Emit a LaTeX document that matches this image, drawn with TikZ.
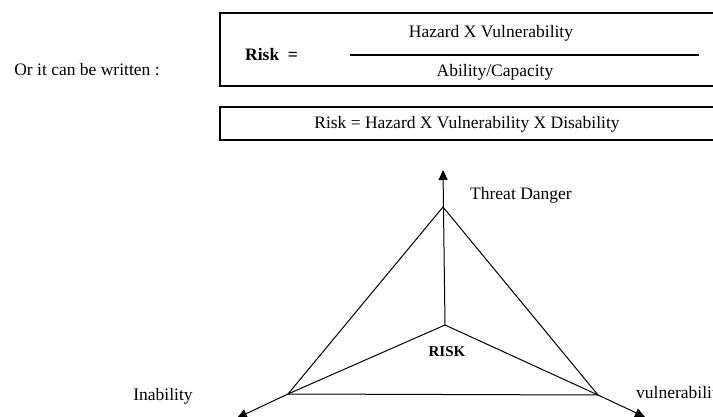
\documentclass[tikz,border=0pt]{standalone}
\usepackage{fontspec}
\setmainfont{Liberation Serif}
\usetikzlibrary{arrows.meta}
\begin{document}
\begin{tikzpicture}[x=1pt,y=-1pt,
  txt/.style={inner sep=0pt,font=\fontsize{17.5}{20}\selectfont},
  frame/.style={draw,line width=1.2pt},
  edge/.style={line width=1pt},
  axis/.style={line width=1pt,-{Triangle[length=10pt,width=9pt]}}]
\useasboundingbox (0,0) rectangle (713,417);
\clip (0,0) rectangle (713,417);
% formula boxes
\node[txt] (lead) at (87,70) {Or it can be written :};
\draw[frame] (220,13) rectangle (730,86);
\node[txt,anchor=west,font=\fontsize{17.5}{20}\selectfont\bfseries] (risk) at (245,55) {Risk\ \ =};
\coordinate (fl) at (350,55);
\coordinate (fr) at (699,55);
\draw[line width=1.2pt] (fl) -- (fr);
\node[txt] (num) at (491,33) {Hazard X Vulnerability};
\node[txt] (den) at (495,72) {Ability/Capacity};
\draw[frame] (220,107) rectangle (730,140);
\node[txt] (eq) at (467,124) {Risk = Hazard X Vulnerability X Disability};
% triangle
\coordinate (c) at (445,325);
\coordinate (t) at (443,207);
\coordinate (l) at (288,394);
\coordinate (r) at (598,395);
\coordinate (ta) at (443,170);
\coordinate (la) at (237,418);
\coordinate (ra) at (645,417);
\draw[edge] (t) -- (l) -- (r) -- cycle;
\draw[edge] (c) -- (l);
\draw[edge] (c) -- (r);
\draw[axis] (c) -- (ta);
\draw[axis] (l) -- (la);
\draw[axis] (r) -- (ra);
\node[txt,font=\fontsize{15}{17}\selectfont\bfseries] (rk) at (447,352) {RISK};
\node[txt,anchor=west] (td) at (470,195) {Threat Danger};
\node[txt] (inab) at (163,396) {Inability};
\node[txt,anchor=west] (vul) at (636,394) {vulnerability};
\end{tikzpicture}
\end{document}
